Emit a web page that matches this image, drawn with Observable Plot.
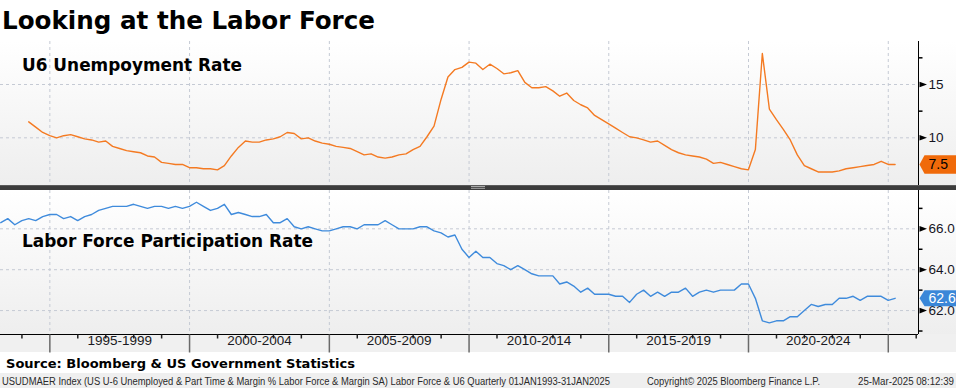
<!DOCTYPE html>
<html><head><meta charset="utf-8">
<script src="https://cdn.jsdelivr.net/npm/d3@7"></script>
<script src="https://cdn.jsdelivr.net/npm/@observablehq/plot@0.6"></script>
<style>
html,body{margin:0;padding:0;background:#fff;}
#wrap{position:relative;width:956px;height:388px;overflow:hidden;}
.layer{position:absolute;left:0;}
</style></head><body><div id="wrap"></div>
<script>
// ---------- DATA ----------
const titleText = "Looking at the Labor Force";
const topLabel = "U6 Unempoyment Rate";
const bottomLabel = "Labor Force Participation Rate";
const sourceText = "Source: Bloomberg & US Government Statistics";
const footerLeft = "USUDMAER Index (US U-6 Unemployed & Part Time & Margin % Labor Force & Margin SA) Labor Force & U6  Quarterly 01JAN1993-31JAN2025";
const footerMid = "Copyright\u00A9 2025 Bloomberg Finance L.P.";
const footerRight = "25-Mar-2025 08:12:39";

// U6 unemployment rate, quarterly, first point 1994 Q1
const u6Start = [1994, 1];
const u6Values = [
  11.5, 11.0, 10.5, 10.2, 10.0, 10.2, 10.3, 10.1, 9.9, 9.8,
  9.6, 9.7, 9.2, 9.0, 8.8, 8.7, 8.6, 8.3, 8.2, 7.7,
  7.6, 7.5, 7.5, 7.2, 7.2, 7.1, 7.1, 7.0, 7.4, 8.3,
  9.1, 9.7, 9.6, 9.6, 9.8, 9.9, 10.1, 10.5, 10.4, 9.9,
  10.0, 9.7, 9.5, 9.4, 9.2, 9.1, 9.0, 8.7, 8.4, 8.5,
  8.2, 8.1, 8.2, 8.4, 8.5, 8.9, 9.2, 10.1, 11.1, 13.6,
  15.7, 16.4, 16.6, 17.1, 17.0, 16.4, 16.9, 16.5, 16.0, 16.1,
  16.3, 15.2, 14.7, 14.7, 14.8, 14.4, 13.9, 14.2, 13.5, 13.1,
  12.8, 12.1, 11.7, 11.3, 10.9, 10.5, 10.1, 10.0, 9.8, 9.6,
  9.7, 9.3, 8.9, 8.6, 8.4, 8.3, 8.2, 8.0, 7.6, 7.7,
  7.5, 7.3, 7.1, 7.0, 8.9, 17.9, 12.7, 11.7, 10.8, 9.8,
  8.4, 7.4, 7.1, 6.8, 6.8, 6.8, 6.9, 7.1, 7.2, 7.3,
  7.4, 7.5, 7.8, 7.5, 7.5
];

// Labor force participation rate, quarterly, first point 1993 Q1
const lfprStart = [1993, 1];
const lfprValues = [
  66.3, 66.5, 66.2, 66.4, 66.5, 66.4, 66.6, 66.7, 66.7, 66.5,
  66.6, 66.4, 66.6, 66.7, 66.9, 67.0, 67.1, 67.1, 67.1, 67.2,
  67.1, 67.0, 67.1, 67.1, 67.0, 67.1, 67.0, 67.1, 67.3, 67.1,
  66.9, 67.0, 67.2, 66.7, 66.8, 66.7, 66.6, 66.6, 66.7, 66.3,
  66.3, 66.5, 66.1, 66.0, 66.1, 66.0, 65.9, 65.9, 66.0, 66.1,
  66.1, 66.0, 66.2, 66.2, 66.2, 66.4, 66.2, 66.0, 66.0, 66.0,
  66.1, 66.1, 65.9, 65.8, 65.6, 65.7, 65.0, 64.6, 64.9, 64.6,
  64.6, 64.3, 64.2, 64.0, 64.2, 64.0, 63.8, 63.7, 63.7, 63.7,
  63.3, 63.4, 63.2, 62.9, 63.1, 62.8, 62.8, 62.8, 62.7, 62.7,
  62.4, 62.8, 63.0, 62.7, 62.9, 62.7, 62.9, 62.9, 63.1, 62.7,
  62.9, 63.0, 62.9, 63.0, 63.0, 63.0, 63.3, 63.3, 62.6, 61.5,
  61.4, 61.5, 61.5, 61.7, 61.7, 62.0, 62.3, 62.2, 62.3, 62.3,
  62.6, 62.6, 62.7, 62.5, 62.7, 62.7, 62.7, 62.5, 62.6
];

const u6Domain = [5.53, 19.03];
const u6MajorTicks = [10, 15];
const u6MinorTicks = [12.5, 17.5];
const lfprDomain = [60.83, 67.875];
const lfprMajorTicks = [62, 64, 66];
const lfprMinorTicks = [61, 63, 65, 67];
const xDomainDates = ["1993-03-27", "2026-01-31"];
const periodStarts = [1995, 2000, 2005, 2010, 2015, 2020, 2025];
const periodLabels = ["1995-1999", "2000-2004", "2005-2009", "2010-2014", "2015-2019", "2020-2024"];
const yearTicks = [1994, 1996, 1997, 1998, 1999, 2001, 2002, 2003, 2004, 2006, 2007, 2008, 2009,
  2011, 2012, 2013, 2014, 2016, 2017, 2018, 2019, 2021, 2022, 2023, 2024, 2026];

// ---------- STYLE ----------
const orange = "#f47a22";
const blue = "#3f8bdc";
const tagOrange = "#f06a0a";
const tagBlue = "#3a87d8";
const gridColor = "#c5cad4";
const axisFont = "Liberation Sans, Arial, sans-serif";

// ---------- helpers ----------
const qDate = (start, i) => {
  const n = (start[1] - 1) + i;
  const y = start[0] + Math.floor(n / 4), q = n % 4;
  return new Date(Date.UTC(y, q * 3 + 3, 0));
};
const u6 = u6Values.map((v, i) => ({date: qDate(u6Start, i), value: v}));
const lfpr = lfprValues.map((v, i) => ({date: qDate(lfprStart, i), value: v}));
const xDomain = xDomainDates.map(s => new Date(s));
const periodDates = periodStarts.map(y => new Date(Date.UTC(y, 0, 1)));
const yearDates = yearTicks.map(y => new Date(Date.UTC(y, 0, 1)));
const labelData = periodLabels.map((t, i) => ({date: new Date(Date.UTC(periodStarts[i] + 2, 6, 2)), text: t}));

const sym = (pts, close) => ({draw(ctx) {
  ctx.moveTo(pts[0][0], pts[0][1]);
  for (let k = 1; k < pts.length; k++) ctx.lineTo(pts[k][0], pts[k][1]);
  if (close) ctx.closePath();
}});
const triRight = sym([[1, -2.8], [8.5, 0], [1, 2.8]], true);
const hTick = sym([[0, 0], [4, 0]], false);
const tagTop = sym([[1, 0], [6, -9.2], [40, -9.2], [40, 9.2], [6, 9.2]], true);
const tagBottom = sym([[1, 0], [6, -8], [40, -8], [40, 8], [6, 8]], true);
const vShort = sym([[0, 0], [0, 4]], false);
const vLong = sym([[0, 0], [0, 18]], false);

const W = 956, FRAME_H = 144;
const base = {
  width: W, marginLeft: 0, marginRight: 38, marginTop: 0,
  style: {background: "transparent", fontFamily: axisFont, fontSize: "13.5px", color: "#15151f", overflow: "visible"}
};

const topPlot = Plot.plot({
  ...base, height: FRAME_H, marginBottom: 0,
  x: {type: "utc", domain: xDomain, axis: null},
  y: {domain: u6Domain, axis: "right", ticks: u6MajorTicks, tickSize: 0, tickPadding: 10, tickFormat: d3.format("d"), label: null},
  marks: [
    Plot.ruleY(u6MajorTicks, {stroke: gridColor, strokeDasharray: "3,3"}),
    Plot.ruleX(periodDates, {stroke: gridColor, strokeDasharray: "3,3"}),
    Plot.ruleX([xDomain[1]], {stroke: "#000"}),
    Plot.dot(u6MajorTicks, {y: d => d, frameAnchor: "right", symbol: triRight, fill: "#000", stroke: "none"}),
    Plot.dot(u6MinorTicks, {y: d => d, frameAnchor: "right", symbol: hTick, fill: "none", stroke: "#000"}),
    Plot.line(u6, {x: "date", y: "value", stroke: orange, strokeWidth: 1.4}),
    Plot.dot([u6[u6.length - 1]], {y: "value", frameAnchor: "right", symbol: tagTop, fill: tagOrange, stroke: "none"}),
    Plot.text([u6[u6.length - 1]], {y: "value", frameAnchor: "right", dx: 10, textAnchor: "start", text: d => d.value.toFixed(1), fill: "#000", fontSize: 14})
  ]
});

const bottomPlot = Plot.plot({
  ...base, height: FRAME_H + 18, marginBottom: 18,
  x: {type: "utc", domain: xDomain, axis: null},
  y: {domain: lfprDomain, axis: "right", ticks: lfprMajorTicks, tickSize: 0, tickPadding: 10, tickFormat: d3.format(".1f"), label: null},
  marks: [
    Plot.ruleY(lfprMajorTicks, {stroke: gridColor, strokeDasharray: "3,3"}),
    Plot.ruleX(periodDates, {stroke: gridColor, strokeDasharray: "3,3"}),
    Plot.ruleX([xDomain[1]], {stroke: "#000"}),
    Plot.ruleY([lfprDomain[0]], {stroke: "#000"}),
    Plot.dot(lfprMajorTicks, {y: d => d, frameAnchor: "right", symbol: triRight, fill: "#000", stroke: "none"}),
    Plot.dot(lfprMinorTicks, {y: d => d, frameAnchor: "right", symbol: hTick, fill: "none", stroke: "#000"}),
    Plot.dot(yearDates, {x: d => d, frameAnchor: "bottom", symbol: vShort, fill: "none", stroke: "#222"}),
    Plot.dot(periodDates, {x: d => d, frameAnchor: "bottom", symbol: vLong, fill: "none", stroke: "#6a6a6a"}),
    Plot.text(labelData, {x: "date", text: "text", frameAnchor: "bottom", dy: 10, fill: "#1a1a22", fontSize: 13.5}),
    Plot.line(lfpr, {x: "date", y: "value", stroke: blue, strokeWidth: 1.4}),
    Plot.dot([lfpr[lfpr.length - 1]], {y: "value", frameAnchor: "right", symbol: tagBottom, fill: tagBlue, stroke: "none"}),
    Plot.text([lfpr[lfpr.length - 1]], {y: "value", frameAnchor: "right", dx: 10, textAnchor: "start", text: d => d.value.toFixed(1), fill: "#fff", fontSize: 14})
  ]
});

// ---------- layout ----------
const wrap = document.getElementById("wrap");
const ns = "http://www.w3.org/2000/svg";
const under = document.createElementNS(ns, "svg");
under.setAttribute("width", W); under.setAttribute("height", 388);
under.setAttribute("class", "layer"); under.style.top = "0px";
under.innerHTML = `
  <defs><linearGradient id="pg" x1="0" y1="0" x2="0" y2="1">
    <stop offset="0" stop-color="#ffffff"/><stop offset="1" stop-color="#eeeeee"/></linearGradient></defs>
  <rect x="0" y="41" width="956" height="144" fill="url(#pg)"/>
  <rect x="0" y="190" width="956" height="144" fill="url(#pg)"/>
  <rect x="0" y="334" width="956" height="18" fill="#f0f0f0"/>
  <rect x="0" y="373" width="956" height="15" fill="#efefef"/>
  <rect x="0" y="185" width="956" height="5" fill="#3c3c3c"/>
  <rect x="0" y="185" width="956" height="1" fill="#5a5a5a"/>
  <line x1="471" x2="485" y1="186.5" y2="186.5" stroke="#a8a8a8"/>
  <line x1="471" x2="485" y1="188.3" y2="188.3" stroke="#a8a8a8"/>`;
wrap.appendChild(under);

topPlot.classList.add("layer"); topPlot.style.top = "41px";
bottomPlot.classList.add("layer"); bottomPlot.style.top = "190px";
wrap.appendChild(topPlot);
wrap.appendChild(bottomPlot);

const over = document.createElementNS(ns, "svg");
over.setAttribute("width", W); over.setAttribute("height", 388);
over.setAttribute("class", "layer"); over.style.top = "0px"; over.style.pointerEvents = "none";
const addText = (txt, x, y, size, weight, len, family, fill) => {
  const t = document.createElementNS(ns, "text");
  t.setAttribute("x", x); t.setAttribute("y", y);
  t.setAttribute("font-size", size); t.setAttribute("font-weight", weight);
  t.setAttribute("font-family", family); t.setAttribute("fill", fill);
  if (len) { t.setAttribute("textLength", len); t.setAttribute("lengthAdjust", "spacingAndGlyphs"); }
  t.textContent = txt; over.appendChild(t);
};
const boldFam = "DejaVu Sans, Verdana, sans-serif";
addText(titleText, 2, 29, 25, "bold", 373, boldFam, "#000");
addText(topLabel, 22, 71, 17, "bold", 220, boldFam, "#000");
addText(bottomLabel, 22, 246.5, 17, "bold", 291, boldFam, "#000");
addText(sourceText, 6, 367.5, 13, "bold", 349, boldFam, "#000");
addText(footerLeft, 2, 384.5, 10, "normal", 608, axisFont, "#2a2a2a");
addText(footerMid, 647, 384.5, 10, "normal", 173, axisFont, "#2a2a2a");
addText(footerRight, 858, 384.5, 10, "normal", 96, axisFont, "#2a2a2a");
wrap.appendChild(over);
</script></body></html>
